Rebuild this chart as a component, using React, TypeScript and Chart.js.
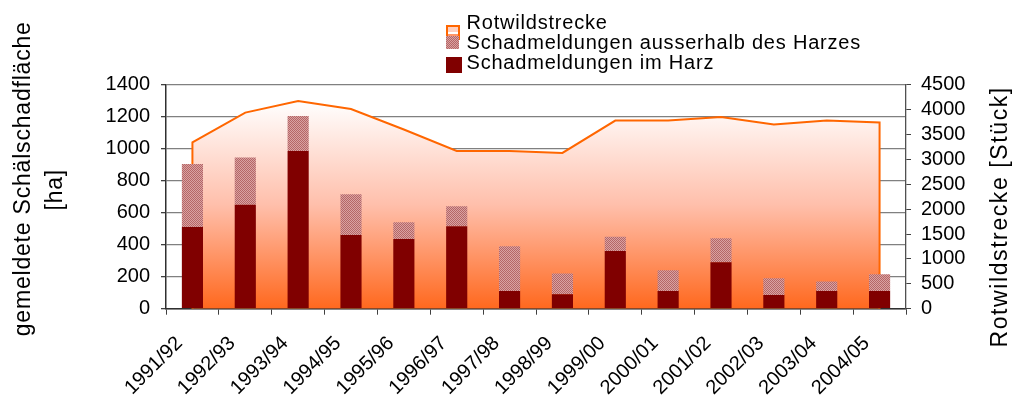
import React, { useEffect, useRef } from "react";
import { Chart, registerables } from "chart.js";

Chart.register(...registerables);

const categories = [
  "1991/92", "1992/93", "1993/94", "1994/95", "1995/96", "1996/97", "1997/98",
  "1998/99", "1999/00", "2000/01", "2001/02", "2002/03", "2003/04", "2004/05",
];
const schadImHarz = [510, 650, 985, 460, 435, 515, 110, 90, 360, 110, 290, 85, 110, 110];
const schadAusserhalb = [395, 295, 220, 255, 105, 125, 280, 130, 90, 130, 150, 105, 60, 105];
const rotwildstrecke = [3340, 3940, 4170, 4010, 3600, 3170, 3170, 3130, 3780, 3780, 3850, 3700, 3780, 3740];

const leftMax = 1400;
const leftStep = 200;
const rightMax = 4500;
const rightStep = 500;

const legendLabels = [
  "Rotwildstrecke",
  "Schadmeldungen ausserhalb des Harzes",
  "Schadmeldungen im Harz",
];
const leftTitle = ["gemeldete Schälschadfläche", "[ha]"];
const rightTitle = "Rotwildstrecke [Stück]";

const FONT = '"Liberation Sans", Arial, sans-serif';

function makePattern(): CanvasPattern | string {
  const c = document.createElement("canvas");
  c.width = 2;
  c.height = 2;
  const g = c.getContext("2d");
  if (!g) return "#c48484";
  g.fillStyle = "#d9a2a2";
  g.fillRect(0, 0, 2, 2);
  g.fillStyle = "#b56666";
  g.fillRect(0, 0, 1, 1);
  g.fillRect(1, 1, 1, 1);
  const p = g.createPattern(c, "repeat");
  return p || "#c48484";
}

const titlePlugin = {
  id: "axisTitles",
  afterDraw(chart: any) {
    const ctx = chart.ctx;
    const area = chart.chartArea;
    ctx.save();
    ctx.fillStyle = "#000";
    ctx.textAlign = "center";
    ctx.textBaseline = "alphabetic";
    ctx.font = `23px ${FONT}`;
    try { (ctx as any).letterSpacing = "0.8px"; } catch (e) {}
    const cy = area.top + (area.bottom - area.top) * 0.42;
    ctx.save();
    ctx.translate(30, cy);
    ctx.rotate(-Math.PI / 2);
    ctx.fillText(leftTitle[0], 0, 0);
    ctx.restore();
    ctx.save();
    ctx.translate(62, cy + 11);
    ctx.rotate(-Math.PI / 2);
    ctx.fillText(leftTitle[1], 0, 0);
    ctx.restore();
    try { (ctx as any).letterSpacing = "1.6px"; } catch (e) {}
    ctx.save();
    ctx.translate(1007, area.top + (area.bottom - area.top) * 0.59);
    ctx.rotate(-Math.PI / 2);
    ctx.fillText(rightTitle, 0, 0);
    ctx.restore();
    ctx.restore();
  },
};

const plainNumber = (v: any) => String(v);

export default function App() {
  const ref = useRef<HTMLCanvasElement | null>(null);

  useEffect(() => {
    if (!ref.current) return;
    const pattern = makePattern();
    const last = categories.length - 1;
    const lineData = [
      { x: categories[0], y: 0 },
      ...categories.map((c, i) => ({ x: c, y: rotwildstrecke[i] })),
      { x: categories[last], y: 0 },
    ];

    const chart = new Chart(ref.current, {
      type: "bar",
      data: {
        labels: categories,
        datasets: [
          {
            type: "line",
            label: legendLabels[0],
            data: lineData as any,
            yAxisID: "y1",
            order: 1,
            borderColor: "#ff6600",
            borderWidth: 2,
            pointRadius: 0,
            tension: 0,
            fill: "origin",
            backgroundColor: (c: any) => {
              const ch = c.chart;
              const area = ch.chartArea;
              if (!area) return "#ffb090";
              const top = ch.scales.y1.getPixelForValue(Math.max(...rotwildstrecke));
              const g = ch.ctx.createLinearGradient(0, top, 0, area.bottom);
              g.addColorStop(0, "#ffffff");
              g.addColorStop(0.5, "#ffbfab");
              g.addColorStop(1, "#ff681e");
              return g;
            },
          } as any,
          {
            type: "bar",
            label: legendLabels[2],
            data: schadImHarz,
            yAxisID: "y",
            order: 0,
            backgroundColor: "#800000",
            barPercentage: 0.4,
            categoryPercentage: 1,
          },
          {
            type: "bar",
            label: legendLabels[1],
            data: schadAusserhalb,
            yAxisID: "y",
            order: 0,
            backgroundColor: pattern as any,
            barPercentage: 0.4,
            categoryPercentage: 1,
          },
        ],
      },
      options: {
        responsive: false,
        animation: false,
        devicePixelRatio: 1,
        layout: { padding: { left: 0, right: 0, top: 84.7, bottom: 0 } },
        plugins: {
          legend: { display: false },
          tooltip: { enabled: false },
          title: { display: false },
        },
        scales: {
          x: {
            stacked: true,
            offset: true,
            grid: {
              display: true,
              offset: true,
              drawOnChartArea: false,
              drawTicks: true,
              tickLength: 6,
              tickColor: "#404040",
            },
            border: { display: true, color: "#303030", width: 1.5 },
            ticks: {
              color: "#000",
              font: { family: FONT, size: 20 },
              minRotation: 45,
              maxRotation: 45,
              autoSkip: false,
              padding: 17,
              labelOffset: -13,
            },
            afterFit: (s: any) => {
              s.height = 401 - 308.7;
            },
          },
          y: {
            stacked: true,
            position: "left",
            min: 0,
            max: leftMax,
            ticks: {
              stepSize: leftStep,
              autoSkip: false,
              callback: plainNumber,
              color: "#000",
              font: { family: FONT, size: 20 },
              padding: 11,
            },
            grid: {
              color: "#808080",
              lineWidth: 1.3,
              drawTicks: true,
              tickLength: 5,
              tickColor: "#404040",
            },
            border: { display: true, color: "#303030", width: 1.5 },
            afterFit: (s: any) => {
              s.width = 166;
            },
          },
          y1: {
            position: "right",
            min: 0,
            max: rightMax,
            ticks: {
              stepSize: rightStep,
              autoSkip: false,
              callback: plainNumber,
              color: "#000",
              font: { family: FONT, size: 20 },
              padding: 10,
            },
            grid: {
              drawOnChartArea: false,
              drawTicks: true,
              tickLength: 5,
              tickColor: "#404040",
            },
            border: { display: true, color: "#505050", width: 1.3 },
            afterFit: (s: any) => {
              s.width = 1014 - 906;
            },
          },
        },
      },
      plugins: [titlePlugin],
    });
    return () => chart.destroy();
  }, []);

  const textStyle: React.CSSProperties = {
    position: "absolute",
    left: 466.5,
    fontFamily: FONT,
    fontSize: 20,
    lineHeight: "20px",
    letterSpacing: "0.8px",
    color: "#000",
    whiteSpace: "nowrap",
  };

  return (
    <div style={{ position: "absolute", left: 0, top: 0, width: 1014, height: 401, background: "#fff" }}>
      <canvas ref={ref} width={1014} height={401} style={{ position: "absolute", left: 0, top: 0, width: 1014, height: 401 }} />
      <div
        style={{
          position: "absolute",
          left: 446,
          top: 25,
          width: 10,
          height: 11,
          border: "2px solid #ff6600",
          background: "linear-gradient(#ffcfbf 0 45%, #ffffff 45% 60%, #ff9466 60% 100%)",
        }}
      />
      <div
        style={{
          position: "absolute",
          left: 446,
          top: 36,
          width: 13,
          height: 13,
          background: "repeating-conic-gradient(#b56666 0% 25%, #d9a2a2 0% 50%) 0 0 / 2px 2px",
        }}
      />
      <div style={{ position: "absolute", left: 446, top: 57, width: 16, height: 16, background: "#800000" }} />
      <div style={{ ...textStyle, top: 11.5 }}>{legendLabels[0]}</div>
      <div style={{ ...textStyle, top: 31.7 }}>{legendLabels[1]}</div>
      <div style={{ ...textStyle, top: 51.5 }}>{legendLabels[2]}</div>
    </div>
  );
}
